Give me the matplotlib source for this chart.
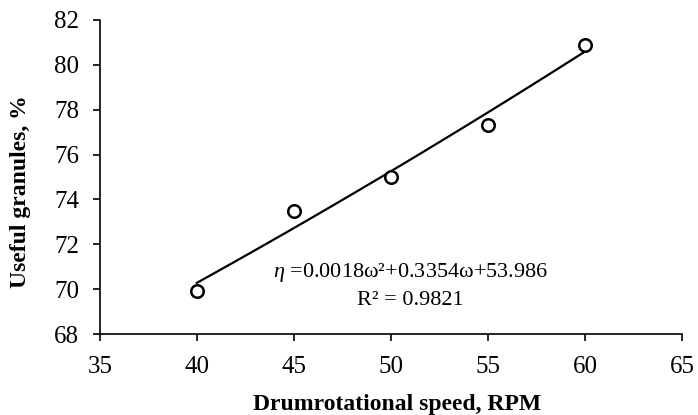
import matplotlib

matplotlib.use("Agg")
import matplotlib.pyplot as plt
import numpy as np

# measured points
speed_rpm = [40, 45, 50, 55, 60]
useful_pct = [69.9, 73.5, 75.0, 77.3, 80.9]

# quadratic trend printed on the chart
coef = [0.0018, 0.3354, 53.986]
r_squared = 0.9821

x_ticks = [35, 40, 45, 50, 55, 60, 65]
y_ticks = [68, 70, 72, 74, 76, 78, 80, 82]

plt.rcParams["font.family"] = ["Liberation Serif", "DejaVu Serif"]
plt.rcParams["mathtext.fontset"] = "custom"
plt.rcParams["mathtext.rm"] = "Liberation Serif"
plt.rcParams["mathtext.it"] = "Liberation Serif:italic"

fig = plt.figure(figsize=(6.98, 4.15), dpi=100)
ax = fig.add_axes([0.143, 0.195, 0.834, 0.757])

xs = np.linspace(speed_rpm[0], speed_rpm[-1], 100)
ax.plot(xs, np.polyval(coef, xs), color="black", linewidth=1.6, zorder=2)
ax.plot(speed_rpm, useful_pct, linestyle="none", marker="o", markersize=9,
        markerfacecolor="white", markeredgecolor="black", markeredgewidth=1.8, zorder=3)

eq = f"$\\eta$ ={coef[0]}\u03c9\u00b2+{coef[1]}\u03c9+{coef[2]}"
ax.text(51.0, 70.75, eq, ha="center", va="center", fontsize=16)
ax.text(51.0, 69.5, f"R\u00b2 = {r_squared}", ha="center", va="center", fontsize=16)

ax.set_xlim(35, 65)
ax.set_ylim(68, 82)
ax.set_xticks(x_ticks)
ax.set_yticks(y_ticks)
ax.tick_params(direction="out", length=5, width=1.2, labelsize=18)
ax.tick_params(axis="x", pad=11)
ax.tick_params(axis="y", pad=10)
ax.spines["top"].set_visible(False)
ax.spines["right"].set_visible(False)
for side in ("left", "bottom"):
    ax.spines[side].set_linewidth(1.2)

ax.set_xlabel("Drumrotational speed, RPM", fontsize=17, fontweight="bold")
ax.set_ylabel("Useful granules, %", fontsize=17, fontweight="bold")
ax.xaxis.set_label_coords(0.51, -0.19)
ax.yaxis.set_label_coords(-0.118, 0.455)

fig.savefig("out.png", dpi=100)
